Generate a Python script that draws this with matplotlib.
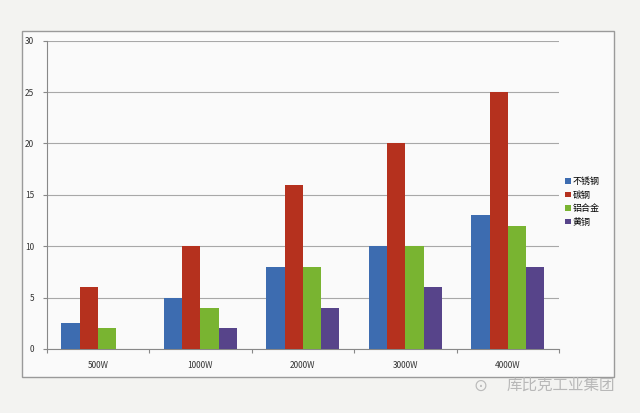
import matplotlib.pyplot as plt
import numpy as np
from matplotlib.patches import Rectangle

plt.rcParams['font.family'] = ['Noto Sans CJK SC', 'DejaVu Sans']

# =============== data ===============
categories = ['500W', '1000W', '2000W', '3000W', '4000W']
series_names = ['不锈钢', '碳钢', '铝合金', '黄铜']
stainless = [2.5, 5, 8, 10, 13]
carbon = [6, 10, 16, 20, 25]
aluminium = [2, 4, 8, 10, 12]
brass = [0, 2, 4, 6, 8]
yticks = [0, 5, 10, 15, 20, 25, 30]

colors = ['#3d6cb0', '#b5311e', '#79b431', '#57448a']

fig = plt.figure(figsize=(6.4, 4.13), dpi=100)
fig.patch.set_facecolor('#f3f3f1')

# outer chart frame (drawn behind the axes)
frame = Rectangle((21.7 / 640, 1 - 377 / 413), (614 - 21.7) / 640, (377 - 31) / 413,
                  transform=fig.transFigure, facecolor='#fafafa',
                  edgecolor='#9a9a9a', lw=1.0, zorder=-5)
fig.patches.append(frame)

ax = fig.add_axes([46.7 / 640, 1 - 349 / 413, (559 - 46.7) / 640, (349 - 40.7) / 413])
ax.set_facecolor('none')
ax.set_zorder(2)

x = np.arange(len(categories))
w = 0.178
all_series = [stainless, carbon, aluminium, brass]
for i, (vals, name) in enumerate(zip(all_series, series_names)):
    ax.bar(x + (i - 1.5) * w, vals, w, color=colors[i], label=name, zorder=3)

ax.set_xlim(-0.5, len(categories) - 0.5)
ax.set_ylim(0, 30)
ax.set_yticks(yticks)
ax.yaxis.grid(True, color='#a8a8a8', lw=0.8)
ax.set_axisbelow(True)

ax.set_xticks(np.arange(-0.5, len(categories)), minor=False)
ax.set_xticklabels([])
ax.set_xticks(x, minor=True)
ax.set_xticklabels(categories, minor=True, fontsize=6, color='#333333')
ax.tick_params(axis='x', which='minor', length=0, pad=9)
ax.tick_params(axis='x', which='major', length=3, color='#888888', direction='out')
ax.tick_params(axis='y', length=3, color='#888888', labelsize=6, labelcolor='#333333', pad=6)

for s in ['top', 'right']:
    ax.spines[s].set_visible(False)
ax.spines['left'].set_color('#888888')
ax.spines['bottom'].set_color('#888888')

leg = ax.legend(loc='center left', bbox_to_anchor=(1.0, 0.477), frameon=False,
                fontsize=6.5, handlelength=0.6, handleheight=0.6, handletextpad=0.2,
                labelspacing=0.5, borderaxespad=0.3)

# watermark
fig.text(480 / 640, 1 - 386 / 413, '⊙', fontsize=12, color='#bbbbbb',
         ha='center', va='center', family='DejaVu Sans')
fig.text(507 / 640, 1 - 385 / 413, '库比克工业集团', fontsize=11.2, color='#b8b8b8',
         ha='left', va='center')

fig.savefig('out.png', dpi=100, facecolor=fig.get_facecolor())
